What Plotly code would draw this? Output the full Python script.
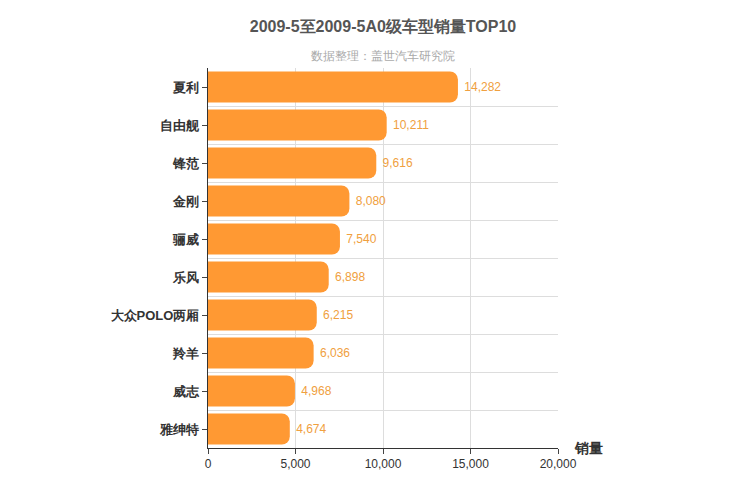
import plotly.graph_objects as go

cats = ["夏利","自由舰","锋范","金刚","骊威","乐风","大众POLO两厢","羚羊","威志","雅绅特"]
vals = [14282,10211,9616,8080,7540,6898,6215,6036,4968,4674]
pos = list(range(len(cats)))

fig = go.Figure(go.Bar(
    x=vals, y=pos, orientation="h", width=0.82,
    marker=dict(color="#ff9933", line=dict(width=0), cornerradius=8),
    text=[f" {v:,}" for v in vals], textposition="outside",
    textfont=dict(color="#f0a040", size=12, family="Arial"), cliponaxis=False))

fig.update_layout(
    width=750, height=500, plot_bgcolor="white", paper_bgcolor="white",
    margin=dict(l=200, r=200, t=60, b=60, autoexpand=False), showlegend=False,
    title=dict(text="<b>2009-5至2009-5A0级车型销量TOP10</b>", x=0.5, y=0.975, xanchor="center",
               font=dict(size=16, color="#555", family="Arial")),
    font=dict(family="Arial", color="#333"))
fig.add_annotation(text="数据整理：盖世汽车研究院", xref="paper", yref="paper", x=0.5, y=1.055,
                   showarrow=False, font=dict(size=12, color="#aaa"))
fig.add_annotation(text="<b>销量</b>", xref="paper", yref="paper", x=1.04, y=0.0, xanchor="left",
                   yanchor="middle", showarrow=False, font=dict(size=14, color="#333"))
fig.update_xaxes(range=[0, 20000], dtick=5000, tickformat=",", showgrid=True, gridcolor="#ddd",
                 zeroline=False, showline=True, linecolor="#333", ticks="outside", ticklen=5,
                 tickfont=dict(size=12, color="#333"), automargin=False)
fig.update_yaxes(range=[9.5, -0.5], tickvals=pos, ticktext=[f"<b>{c}</b>" for c in cats],
                 showgrid=False, zeroline=False, showline=True, linecolor="#333",
                 ticks="outside", ticklen=5, tickfont=dict(size=13, color="#333"), automargin=False,
                 minor=dict(tick0=0.5, dtick=1, showgrid=True, gridcolor="#ddd"))
fig.write_html("out.html")
